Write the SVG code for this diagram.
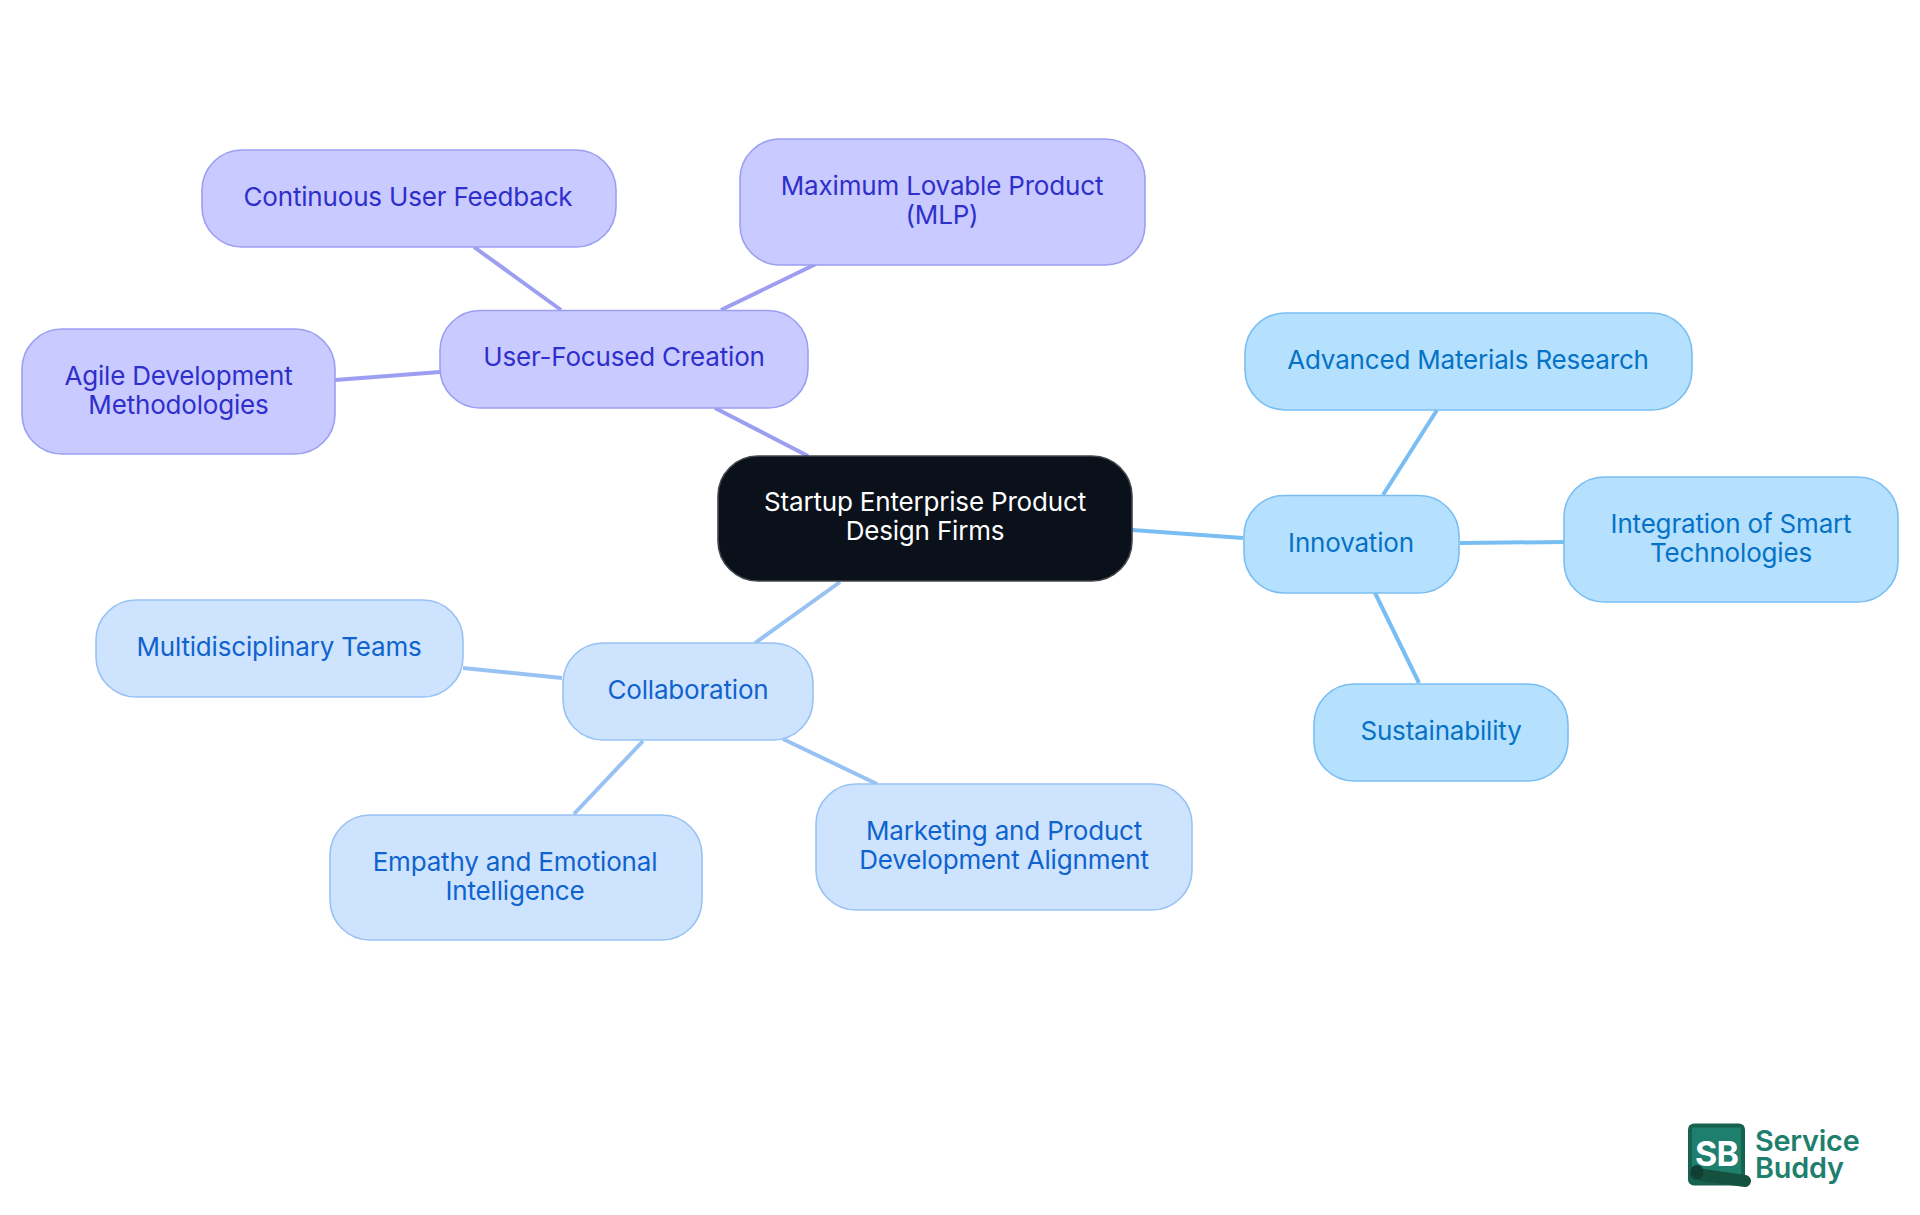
<svg xmlns="http://www.w3.org/2000/svg" width="1920" height="1215" viewBox="0 0 1920 1215">
<style>
text{font-family:"Inter","Noto Sans",sans-serif;font-size:26px;text-anchor:middle;letter-spacing:-.18px}
.edge{fill:none;stroke-width:4}
.node rect{stroke-width:1.6}
.root rect{fill:#0b111a;stroke:#41454c}.root text{fill:#fff}
.pu rect{fill:#c9caff;stroke:#9c9ef2}.pu text{fill:#2f2fcb}
.bl rect{fill:#cee3fd;stroke:#98c2f3}.bl text{fill:#0f63cf}
.sk rect{fill:#b5e0fe;stroke:#79bef3}.sk text{fill:#0672c6}
.e-pu{stroke:#9c9ef2}.e-bl{stroke:#98c2f3}.e-sk{stroke:#79bef3}
.logo text{font-size:28.800px;font-weight:600;letter-spacing:-.2px;text-anchor:start;fill:#1f7f6e}
</style>
<g id="connectors">
<path class="edge e-pu" d="M715 408L808 456"/>
<path class="edge e-pu" d="M561 310L474 247"/>
<path class="edge e-pu" d="M721 310L816 264"/>
<path class="edge e-pu" d="M440 372L335 380"/>
<path class="edge e-sk" d="M1132 530L1243 538"/>
<path class="edge e-sk" d="M1383 495L1437 410"/>
<path class="edge e-sk" d="M1460 543L1564 542"/>
<path class="edge e-sk" d="M1375 593L1419 683"/>
<path class="edge e-bl" d="M840 582L755 643"/>
<path class="edge e-bl" d="M562 678L463 668"/>
<path class="edge e-bl" d="M643 741L574 814"/>
<path class="edge e-bl" d="M783 739L877 784"/>
</g>
<g id="root" class="node root"><rect x="718" y="456" width="414" height="125" rx="40"/><text x="925" y="511">Startup Enterprise Product</text><text x="925" y="540">Design Firms</text></g>
<g id="user-focused" class="node pu"><rect x="440" y="310.500" width="368" height="97.500" rx="40"/><text x="624" y="366">User-Focused Creation</text></g>
<g id="continuous" class="node pu"><rect x="202" y="150" width="414" height="97" rx="40"/><text x="408" y="206">Continuous User Feedback</text></g>
<g id="mlp" class="node pu"><rect x="740" y="139" width="405" height="126" rx="40"/><text x="942" y="195">Maximum Lovable Product</text><text x="942" y="224">(MLP)</text></g>
<g id="agile" class="node pu"><rect x="22" y="329" width="313" height="125" rx="40"/><text x="178.500" y="385">Agile Development</text><text x="178.500" y="414">Methodologies</text></g>
<g id="innovation" class="node sk"><rect x="1244" y="495.500" width="215" height="97.500" rx="40"/><text x="1351" y="552">Innovation</text></g>
<g id="advanced" class="node sk"><rect x="1245" y="313" width="447" height="97" rx="40"/><text x="1468" y="369">Advanced Materials Research</text></g>
<g id="integration" class="node sk"><rect x="1564" y="477" width="334" height="125" rx="40"/><text x="1731" y="533">Integration of Smart</text><text x="1731" y="562">Technologies</text></g>
<g id="sustainability" class="node sk"><rect x="1314" y="684" width="254" height="97" rx="40"/><text x="1441" y="740">Sustainability</text></g>
<g id="collaboration" class="node bl"><rect x="563" y="643" width="250" height="97" rx="40"/><text x="688" y="699">Collaboration</text></g>
<g id="multidisciplinary" class="node bl"><rect x="96" y="600" width="367" height="97" rx="40"/><text x="279" y="656">Multidisciplinary Teams</text></g>
<g id="empathy" class="node bl"><rect x="330" y="815" width="372" height="125" rx="40"/><text x="515" y="871">Empathy and Emotional</text><text x="515" y="900">Intelligence</text></g>
<g id="marketing" class="node bl"><rect x="816" y="784" width="376" height="126" rx="40"/><text x="1004" y="840">Marketing and Product</text><text x="1004" y="869">Development Alignment</text></g>
<g id="logo" class="logo">
<rect x="1688" y="1123.500" width="57" height="62" rx="6" fill="#17614f"/>
<rect x="1692" y="1127.500" width="49" height="49" fill="#1f7f6e"/>
<text x="1695" y="1166" style="fill:#fff;font-weight:700;font-size:34px;letter-spacing:-.8px">SB</text>
<path d="M1696 1174L1745 1181" stroke="#15513f" stroke-width="12" stroke-linecap="round" fill="none"/>
<ellipse cx="1697" cy="1172" rx="6.500" ry="7" fill="#123f33"/>
<text x="1755" y="1151">Service</text><text x="1755" y="1178">Buddy</text>
</g>
</svg>
